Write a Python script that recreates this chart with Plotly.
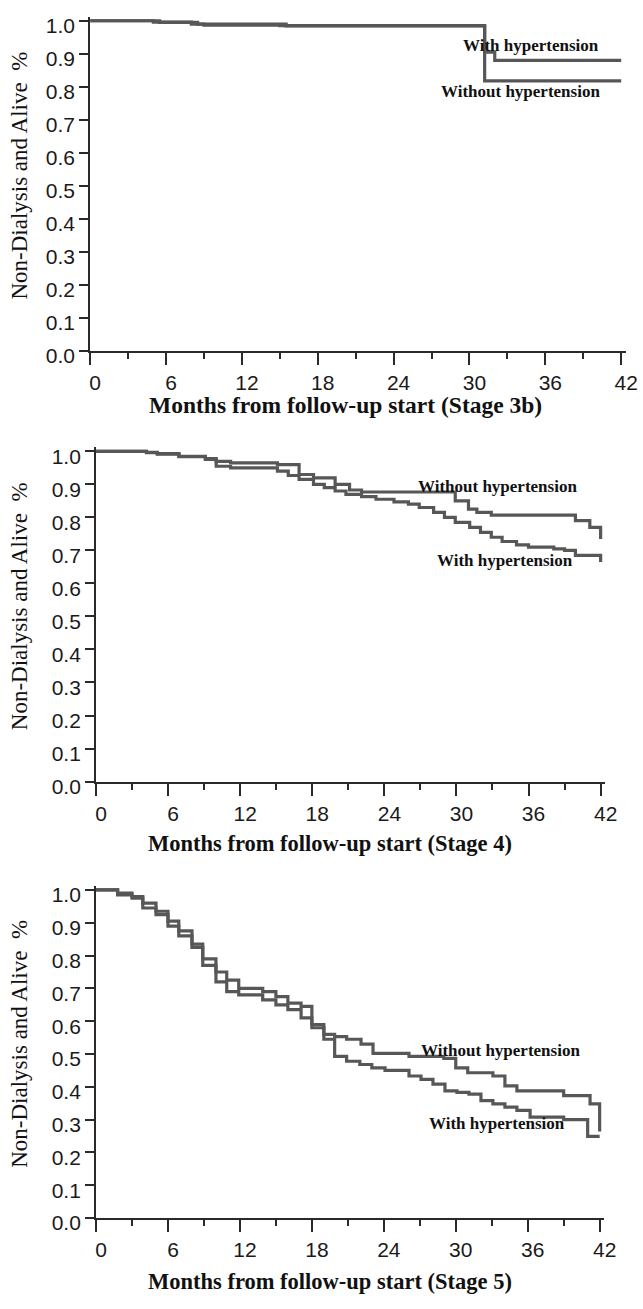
import plotly.graph_objects as go

# ---------------- data ----------------
# Stage 3b
s3b_with_t = [0, 5.0, 8.0, 9.0, 15.0, 31.2, 32.0, 42]
s3b_with_s = [1.0, 0.996, 0.990, 0.987, 0.985, 0.905, 0.880, 0.880]
s3b_without_t = [0, 5.5, 8.5, 15.5, 31.2, 42]
s3b_without_s = [1.0, 0.995, 0.990, 0.984, 0.818, 0.818]

# Stage 4
s4_without_t = [0, 4.2, 5.1, 6.9, 9.1, 10.0, 11.2, 15.1, 16.9, 18.1, 19.9, 21.1, 22.1,
                29.9, 31.0, 31.7, 32.9, 39.9, 41.1, 42]
s4_without_s = [1.0, 0.997, 0.993, 0.985, 0.978, 0.970, 0.965, 0.960, 0.930, 0.920, 0.900,
                0.883, 0.877, 0.850, 0.825, 0.815, 0.807, 0.790, 0.770, 0.735]
s4_with_t = [0, 4.2, 5.1, 6.9, 9.1, 10.0, 11.2, 15.1, 16.0, 16.9, 18.1, 19.0, 19.9, 20.8,
             22.1, 23.3, 24.8, 26.0, 26.9, 28.1, 29.0, 29.9, 31.1, 32.0, 32.9, 33.8, 35.0,
             36.0, 38.1, 39.0, 39.9, 42]
s4_with_s = [1.0, 0.996, 0.992, 0.984, 0.976, 0.955, 0.950, 0.940, 0.927, 0.915, 0.900,
             0.890, 0.880, 0.870, 0.863, 0.855, 0.847, 0.840, 0.830, 0.815, 0.800, 0.785,
             0.770, 0.755, 0.740, 0.727, 0.717, 0.710, 0.705, 0.700, 0.685, 0.665]

# Stage 5
s5_without_t = [0, 1.8, 3.0, 3.9, 5.0, 6.0, 6.9, 8.0, 8.9, 10.0, 10.9, 11.9, 13.9, 15.0,
                16.0, 17.1, 18.0, 19.0, 19.9, 20.9, 22.1, 23.1, 26.1, 29.0, 30.0, 31.0,
                33.1, 34.1, 35.1, 39.0, 41.2, 42]
s5_without_s = [1.0, 0.990, 0.980, 0.960, 0.935, 0.905, 0.875, 0.835, 0.790, 0.750, 0.725,
                0.700, 0.690, 0.675, 0.655, 0.645, 0.590, 0.560, 0.553, 0.545, 0.530, 0.502,
                0.493, 0.487, 0.458, 0.443, 0.433, 0.403, 0.388, 0.373, 0.348, 0.264]
s5_with_t = [0, 1.8, 3.0, 3.9, 5.0, 6.0, 6.9, 8.0, 8.9, 10.0, 10.9, 11.9, 13.9, 15.0, 16.0,
             17.1, 18.0, 19.0, 19.9, 20.9, 22.0, 23.0, 24.1, 26.1, 27.1, 28.1, 29.1, 30.1,
             31.1, 32.1, 33.1, 34.1, 35.1, 36.2, 39.0, 41.0, 42]
s5_with_s = [1.0, 0.985, 0.975, 0.945, 0.925, 0.890, 0.860, 0.825, 0.770, 0.720, 0.690,
             0.680, 0.665, 0.650, 0.635, 0.610, 0.580, 0.545, 0.493, 0.478, 0.468, 0.458,
             0.450, 0.433, 0.423, 0.408, 0.388, 0.383, 0.378, 0.358, 0.348, 0.338, 0.328,
             0.308, 0.300, 0.249, 0.249]

x_ticks = [0, 6, 12, 18, 24, 30, 36, 42]
y_ticks = [0.0, 0.1, 0.2, 0.3, 0.4, 0.5, 0.6, 0.7, 0.8, 0.9, 1.0]
y_ticklabels = ["0.0", "0.1", "0.2", "0.3", "0.4", "0.5", "0.6", "0.7", "0.8", "0.9", "1.0"]

x_titles = ["Months from follow-up start (Stage 3b)",
            "Months from follow-up start (Stage 4)",
            "Months from follow-up start (Stage 5)"]
y_title = "Non-Dialysis and Alive  %"
lbl_with = "With hypertension"
lbl_without = "Without hypertension"

# ---------------- layout geometry (pixels) ----------------
W, H = 643, 1309
panels = [
    dict(x0=91, x42=633, y0=353, y1=18, title_x=352, title_y=408, title_size=23.5,
         ann=[(lbl_with, 40.4, 0.925), (lbl_without, 40.5, 0.785)],
         curves=[(s3b_with_t, s3b_with_s), (s3b_without_t, s3b_without_s)]),
    dict(x0=97, x42=612, y0=790, y1=455, title_x=336, title_y=853, title_size=22.5,
         ann=[(lbl_without, 40.2, 0.895), (lbl_with, 39.9, 0.670)],
         curves=[(s4_with_t, s4_with_s), (s4_without_t, s4_without_s)]),
    dict(x0=97, x42=611, y0=1233, y1=900, title_x=336, title_y=1297, title_size=22.5,
         ann=[(lbl_without, 40.5, 0.512), (lbl_with, 39.3, 0.289)],
         curves=[(s5_with_t, s5_with_s), (s5_without_t, s5_without_s)]),
]

XMAX = 42.4
YMAX = 1.012

fig = go.Figure()
annotations = []
layout = dict(width=W, height=H, margin=dict(l=0, r=0, t=0, b=0),
              paper_bgcolor="white", plot_bgcolor="white", showlegend=False)

curve_color = "#575757"
axis_color = "#2a2a2a"
tick_font = dict(family="Liberation Sans, Arial, sans-serif", size=21, color="#1a1a1a")
serif = "Liberation Serif, Times New Roman, serif"

for i, p in enumerate(panels):
    n = "" if i == 0 else str(i + 1)
    pxm = (p["x42"] - p["x0"]) / 42.0
    pyu = (p["y0"] - p["y1"]) / 1.0
    x_left = p["x0"]
    x_right = p["x0"] + XMAX * pxm
    y_bottom = p["y0"]
    y_top = p["y0"] - YMAX * pyu
    xd = [x_left / W, x_right / W]
    yd = [1 - y_bottom / H, 1 - y_top / H]

    for (t, s) in p["curves"]:
        fig.add_trace(go.Scatter(x=t, y=s, mode="lines", line_shape="hv",
                                 line=dict(color=curve_color, width=3.2),
                                 xaxis="x" + n, yaxis="y" + n, hoverinfo="skip"))

    layout["xaxis" + n] = dict(domain=xd, anchor="y" + n, range=[0, XMAX],
                               tickvals=x_ticks, ticks="outside", ticklen=12,
                               tickwidth=1.6, tickcolor=axis_color,
                               ticklabelshift=5,
                               showline=True, linecolor=axis_color, linewidth=2,
                               showgrid=False, zeroline=False, tickfont=tick_font,
                               minor=dict(dtick=3, tick0=0, ticks="outside", ticklen=6,
                                          tickwidth=1.6, tickcolor=axis_color,
                                          showgrid=False))
    layout["yaxis" + n] = dict(domain=yd, anchor="x" + n, range=[0, YMAX],
                               tickvals=y_ticks, ticktext=y_ticklabels,
                               ticks="outside", ticklen=9, tickwidth=1.6,
                               ticklabelshift=5,
                               tickcolor=axis_color, showline=True,
                               linecolor=axis_color, linewidth=2, showgrid=False,
                               zeroline=False, tickfont=tick_font)

    for (txt, ax, ay) in p["ann"]:
        annotations.append(dict(text="<b>" + txt + "</b>", x=ax, y=ay,
                                xref="x" + n, yref="y" + n, xanchor="right",
                                yanchor="middle", showarrow=False,
                                font=dict(family=serif, size=17, color="#111111")))
    # x-axis title
    annotations.append(dict(text="<b>" + x_titles[i] + "</b>",
                            x=p["title_x"] / W, y=1 - p["title_y"] / H,
                            xref="paper", yref="paper", xanchor="center",
                            yanchor="middle", showarrow=False,
                            font=dict(family=serif, size=p["title_size"], color="#111111")))
    # y-axis title
    annotations.append(dict(text=y_title, x=19 / W,
                            y=1 - ((p["y0"] + p["y1"]) / 2 - 10) / H,
                            xref="paper", yref="paper", xanchor="center",
                            yanchor="middle", textangle=-90, showarrow=False,
                            font=dict(family=serif, size=23, color="#111111")))

layout["annotations"] = annotations
fig.update_layout(**layout)
fig.write_html("out.html")
